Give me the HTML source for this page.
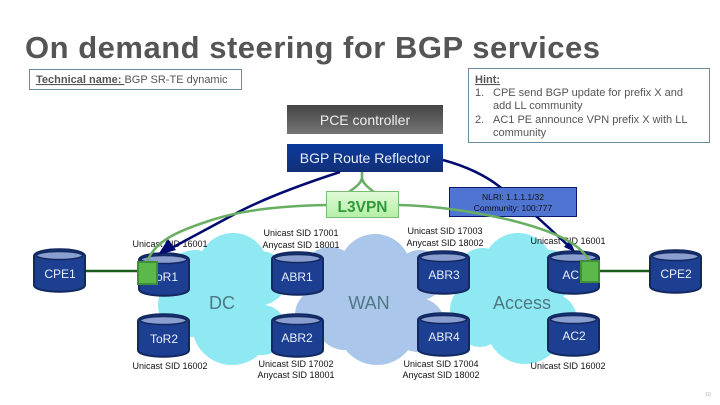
<!DOCTYPE html>
<html><head><meta charset="utf-8"><style>
html,body{margin:0;padding:0;background:#fff;width:720px;height:405px;overflow:hidden}
svg{display:block}
text{font-family:"Liberation Sans",sans-serif}
.s{font-size:9px;fill:#111;text-anchor:middle}
.n{font-size:12px;fill:#e8eefc;text-anchor:middle}
.h{font-size:11px;fill:#555}
.r{font-size:18px;fill:#4f7885;text-anchor:middle}
.c{fill:#8fe9f2}.w{fill:#aac6ea}
.b{fill:#1d3f91;stroke:#12285f;stroke-width:2}
.t{fill:#8a9fd0;stroke:#12285f;stroke-width:1.5}
.g{fill:none;stroke:#69ae62;stroke-width:2.5}
.v{fill:none;stroke:#000a70;stroke-width:2.5}
</style></head><body>
<svg width="720" height="405" viewBox="0 0 720 405" xmlns="http://www.w3.org/2000/svg">
<defs>
<linearGradient id="g1" x1="0" y1="0" x2="0" y2="1"><stop offset="0" stop-color="#444"/><stop offset="1" stop-color="#757575"/></linearGradient>
<linearGradient id="g2" x1="0" y1="0" x2="0" y2="1"><stop offset="0" stop-color="#0b3a9c"/><stop offset="1" stop-color="#123078"/></linearGradient>
<linearGradient id="g3" x1="0" y1="0" x2="0" y2="1"><stop offset="0" stop-color="#e2fbd8"/><stop offset="1" stop-color="#b4efa6"/></linearGradient>
</defs>
<text x="25" y="58" font-size="31" font-weight="bold" fill="#555" textLength="575" lengthAdjust="spacing">On demand steering for BGP services</text>
<rect x="29.5" y="69.5" width="212" height="20" fill="#fff" stroke="#6d8a9c"/>
<text x="36" y="83" class="h"><tspan font-weight="bold" text-decoration="underline">Technical name: </tspan>BGP SR-TE dynamic</text>
<rect x="468.5" y="68.5" width="241" height="74" fill="#fff" stroke="#6d8a9c"/>
<text x="475" y="83" class="h" font-weight="bold" text-decoration="underline">Hint:</text>
<text x="475" y="96" class="h">1.</text><text x="493" y="96" class="h">CPE send BGP update for prefix X and</text>
<text x="493" y="109" class="h">add LL community</text>
<text x="475" y="123" class="h">2.</text><text x="493" y="123" class="h">AC1 PE announce VPN prefix X with LL</text>
<text x="493" y="136" class="h">community</text>
<g class="w"><rect x="320" y="265" width="100" height="70"/><circle cx="375" cy="270" r="36"/><circle cx="330" cy="275" r="28"/><circle cx="420" cy="275" r="25"/><circle cx="322" cy="315" r="27"/><circle cx="377" cy="325" r="40"/><circle cx="418" cy="325" r="27"/><circle cx="345" cy="320" r="30"/></g>
<g class="c"><rect x="185" y="265" width="80" height="70"/><circle cx="233" cy="268" r="35"/><circle cx="195" cy="280" r="30"/><circle cx="260" cy="278" r="27"/><circle cx="190" cy="305" r="32"/><circle cx="232" cy="325" r="40"/><circle cx="262" cy="330" r="25"/></g>
<g class="c"><rect x="480" y="265" width="75" height="70"/><circle cx="518" cy="268" r="35"/><circle cx="483" cy="275" r="27"/><circle cx="550" cy="275" r="25"/><circle cx="478" cy="310" r="28"/><circle cx="525" cy="325" r="39"/><circle cx="480" cy="325" r="22"/><circle cx="550" cy="320" r="27"/></g>
<text x="222" y="309" class="r">DC</text>
<text x="369" y="309" class="r">WAN</text>
<text x="522" y="309" class="r">Access</text>
<rect x="287" y="105" width="156" height="29" fill="url(#g1)"/>
<text x="365" y="125" font-size="14" fill="#eee" text-anchor="middle">PCE controller</text>
<rect x="287" y="144" width="156" height="28" fill="url(#g2)"/>
<text x="365" y="163" font-size="14" fill="#e8eefc" text-anchor="middle">BGP Route Reflector</text>
<text x="170" y="247" class="s">Unicast SID 16001</text>
<text x="301" y="236" class="s">Unicast SID 17001</text>
<text x="301" y="248" class="s">Anycast SID 18001</text>
<text x="445" y="234" class="s">Unicast SID 17003</text>
<text x="445" y="246" class="s">Anycast SID 18002</text>
<text x="568" y="244" class="s">Unicast SID 16001</text>
<text x="170" y="369" class="s">Unicast SID 16002</text>
<text x="296" y="367" class="s">Unicast SID 17002</text>
<text x="296" y="378" class="s">Anycast SID 18001</text>
<text x="441" y="367" class="s">Unicast SID 17004</text>
<text x="441" y="378" class="s">Anycast SID 18002</text>
<text x="568" y="369" class="s">Unicast SID 16002</text>
<line x1="86" y1="271" x2="140" y2="271" stroke="#1d5a1a" stroke-width="2.5"/>
<line x1="598" y1="271" x2="650" y2="271" stroke="#1d5a1a" stroke-width="2.5"/>
<path class="b" d="M34 256 C34 247 85 247 85 256 V285 C85 294 34 294 34 285Z"/><ellipse class="t" cx="59.5" cy="255.5" rx="23" ry="4"/>
<path class="b" d="M139 260 C139 251 189 251 189 260 V289 C189 298 139 298 139 289Z"/><ellipse class="t" cx="164" cy="259.500" rx="23" ry="4"/>
<path class="b" d="M138 321 C138 312 189 312 189 321 V350 C189 359 138 359 138 350Z"/><ellipse class="t" cx="163.500" cy="320.500" rx="23" ry="4"/>
<path class="b" d="M272 259 C272 250 323 250 323 259 V288 C323 297 272 297 272 288Z"/><ellipse class="t" cx="297.500" cy="258.500" rx="23" ry="4"/>
<path class="b" d="M272 321 C272 312 323 312 323 321 V350 C323 359 272 359 272 350Z"/><ellipse class="t" cx="297.500" cy="320.500" rx="23" ry="4"/>
<path class="b" d="M418 258 C418 249 469 249 469 258 V287 C469 296 418 296 418 287Z"/><ellipse class="t" cx="443.500" cy="257.500" rx="23" ry="4"/>
<path class="b" d="M418 320 C418 311 469 311 469 320 V349 C469 358 418 358 418 349Z"/><ellipse class="t" cx="443.500" cy="319.500" rx="23" ry="4"/>
<path class="b" d="M548 258 C548 249 599 249 599 258 V287 C599 296 548 296 548 287Z"/><ellipse class="t" cx="573.500" cy="257.500" rx="23" ry="4"/>
<path class="b" d="M548 320 C548 311 599 311 599 320 V349 C599 358 548 358 548 349Z"/><ellipse class="t" cx="573.500" cy="319.500" rx="23" ry="4"/>
<path class="b" d="M650 257 C650 248 701 248 701 257 V286 C701 295 650 295 650 286Z"/><ellipse class="t" cx="675.500" cy="256.500" rx="23" ry="4"/>
<text x="60" y="278" class="n">CPE1</text>
<text x="164" y="281" class="n">ToR1</text>
<text x="164" y="343" class="n">ToR2</text>
<text x="297" y="281" class="n">ABR1</text>
<text x="297" y="342" class="n">ABR2</text>
<text x="444" y="279" class="n">ABR3</text>
<text x="444" y="341" class="n">ABR4</text>
<text x="574" y="279" class="n">AC1</text>
<text x="574" y="340" class="n">AC2</text>
<text x="676" y="278" class="n">CPE2</text>
<path class="v" d="M340 172 C300 185 262 199 233 215 L166 251"/>
<polygon points="158,255 176,250 168,239" fill="#000a70"/>
<path class="v" d="M443 160 C465 166 485 175 500 187 L537 217 L572 249"/>
<polygon points="575,252 564,247 570,240" fill="#000a70"/>
<rect x="449.5" y="187.500" width="127" height="29" fill="#4f74d2" stroke="#0a1a70"/>
<text x="513" y="200" font-size="8.500" fill="#111" text-anchor="middle">NLRI: 1.1.1.1/32</text>
<text x="513" y="211" font-size="8.500" fill="#111" text-anchor="middle">Community: 100:777</text>
<path class="g" d="M326 205 C275 206 240 211 215 219 C180 230 155 240 147 262"/>
<path class="g" d="M399 205 C440 206 480 213 510 220 C550 230 580 242 590 262"/>
<path d="M362 172 V178 C361 184 354 188 349 192 M362 178 C363 184 369 188 374 192" fill="none" stroke="#69ae62" stroke-width="2.500"/>
<rect x="326.500" y="191.500" width="72" height="26" fill="url(#g3)" stroke="#79bb72"/>
<text x="362.500" y="212" font-size="15.500" font-weight="bold" fill="#2f9a3a" text-anchor="middle">L3VPN</text>
<rect x="138" y="262" width="19" height="22" fill="#5cb84a" stroke="#3f8f3a" stroke-width="2"/>
<rect x="581" y="261" width="18" height="21" fill="#5cb84a" stroke="#3f8f3a" stroke-width="2"/>
<text x="708" y="396" font-size="5" fill="#aaa" text-anchor="middle">10</text>
</svg>
</body></html>
